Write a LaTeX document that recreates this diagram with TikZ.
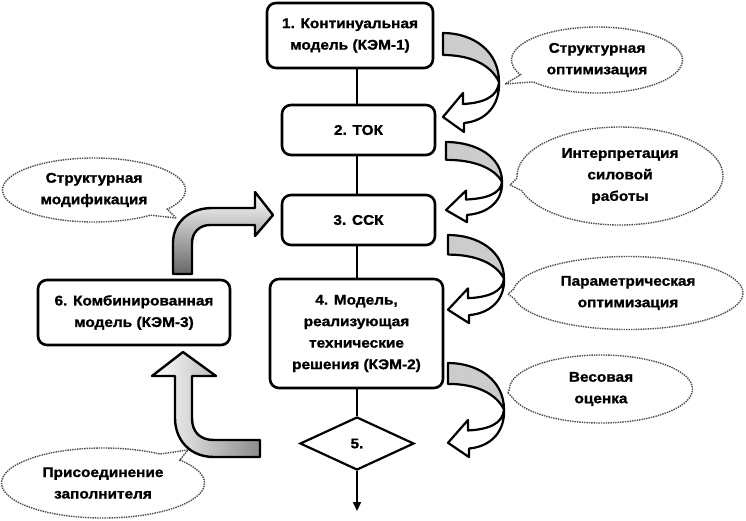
\documentclass[tikz,border=0pt]{standalone}
\usepackage{fontspec}
\setmainfont{Liberation Sans}
\newfontfamily\lblfam[FakeStretch=1.1, BoldFeatures={FakeBold=1.2}]{Liberation Sans}
\usetikzlibrary{shapes.geometric,shapes.callouts,arrows.meta}
\newcommand\lblfont{\lblfam\fontsize{14}{21.5}\selectfont\bfseries}
\newcommand\curvearr[3]{%
  \begin{scope}[shift={(#1,#2)}, yscale=#3]
    \draw[carr, fill=gray!40] (0,0) .. controls (30,0) and (56,18) .. (56,49)
       .. controls (48,32) and (28,22) .. (0,22) -- cycle;
    \draw[carr, fill=white] (56,49) .. controls (55,64) and (40,70) .. (20,71)
       -- (20,60) -- (0,84) -- (21,99) -- (21,90)
       .. controls (43,88) and (57,72) .. (56,49) -- cycle;
  \end{scope}}
\begin{document}
\begin{tikzpicture}[x=1pt,y=-1pt,
  box/.style={draw, line width=2.6pt, rounded corners=9pt, fill=white, align=center, inner sep=0pt, font=\lblfont},
  dia/.style={draw, diamond, line width=2.2pt, fill=white, inner sep=0pt, font=\lblfont},
  conn/.style={line width=2pt},
  carr/.style={line width=2.2pt, line join=round},
  larr/.style={draw, line width=2.4pt, line join=round},
  bubble/.style={ellipse callout, draw=gray!60!black, densely dotted, line width=1.4pt, fill=white,
     inner sep=0pt, align=center, font=\lblfont}]
\useasboundingbox (0,0) rectangle (746,520);
\fill[white] (0,0) rectangle (746,520);
\coordinate (axis) at (357,0);

% boxes
\node[box, minimum width=166, minimum height=65] (b1) at (350,35.5) {1. Континуальная\\модель (КЭМ-1)};
\node[box, minimum width=153, minimum height=50] (b2) at (358.5,130) {2. ТОК};
\node[box, minimum width=153, minimum height=50] (b3) at (358.5,220) {3. ССК};
\node[box, minimum width=173, minimum height=109] (b4) at (356.5,333.5) {4. Модель,\\реализующая\\технические\\решения (КЭМ-2)};
\node[dia, minimum width=114, minimum height=53] (d5) at (357,443.5) {5.};
\node[box, minimum width=192, minimum height=65] (b6) at (134,312.5) {6. Комбинированная\\модель (КЭМ-3)};
\coordinate (end) at (357,511);

% connectors
\draw[conn] (b1.south -| axis) -- (b2.north -| axis);
\draw[conn] (b2.south -| axis) -- (b3.north -| axis);
\draw[conn] (b3.south -| axis) -- (b4.north -| axis);
\draw[conn] (b4.south -| axis) -- (d5.north);
\draw[conn, -{Triangle[length=9pt,width=8pt]}] (d5.south) -- (end);

% curved arrows (right side)
\curvearr{443}{33}{1}
\curvearr{446}{142}{0.81}
\curvearr{448}{235}{0.89}
\curvearr{448}{363}{0.95}

% left block arrows
\draw[larr, top color=white, bottom color=black!60]
  (173,274) -- (173,243) .. controls (173,222) and (190,208) .. (212,208) -- (255,208)
  -- (255,192) -- (273,215) -- (255,236) -- (255,225) -- (210,225)
  .. controls (200,225) and (192,232) .. (192,243) -- (192,274) -- cycle;
\draw[larr, left color=white, right color=black!45]
  (183,352) -- (216,376) -- (192,376) -- (192,418)
  .. controls (192,432) and (200,440) .. (214,440) -- (260,440) -- (260,457) -- (214,457)
  .. controls (190,457) and (175,440) .. (175,418) -- (175,376) -- (152,376) -- cycle;

% callouts
\node[bubble, minimum width=171, minimum height=66, callout absolute pointer={(505,84)}] (c1) at (597,60) {Структурная\\оптимизация};
\node[bubble, minimum width=206, minimum height=98, callout absolute pointer={(510,185)}] (c2) at (620,176) {Интерпретация\\силовой\\работы};
\node[bubble, minimum width=230, minimum height=73, callout absolute pointer={(508,294)}] (c3) at (628,293) {Параметрическая\\оптимизация};
\node[bubble, minimum width=183, minimum height=68, callout absolute pointer={(508,393)}] (c4) at (601,389) {Весовая\\оценка};
\node[bubble, minimum width=183, minimum height=64, callout absolute pointer={(176,218)}] (c5) at (94,190) {Структурная\\модификация};
\node[bubble, minimum width=203, minimum height=70, callout absolute pointer={(188,450)}] (c6) at (103,483) {Присоединение\\заполнителя};
\end{tikzpicture}
\end{document}
